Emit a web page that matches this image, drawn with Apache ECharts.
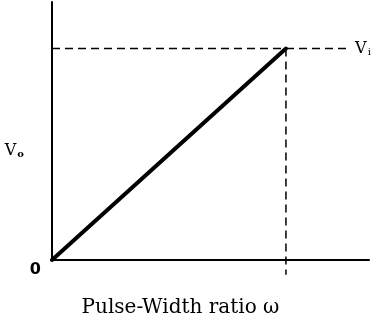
<!DOCTYPE html>
<html>
<head>
<meta charset="utf-8">
<script src="https://cdn.jsdelivr.net/npm/echarts@6/dist/echarts.min.js"></script>
<style>html,body{margin:0;padding:0;background:#fff}#c{width:382px;height:323px}</style>
</head>
<body>
<div id="c"></div>
<script>
// Data
const omega = [0, 1];          // pulse-width ratio
const vo = [0, 1];             // output voltage (relative to Vi)
const viLevel = 1;             // input voltage level
const viGuideEnd = 1.27;       // horizontal guide extent (omega units)
const omegaGuideBottom = -0.07;// vertical guide extends below axis
const xTitle = 'Pulse-Width ratio \u03c9';

const serif = '"DejaVu Serif", "Liberation Serif", serif';
const chart = echarts.init(document.getElementById('c'), null, {renderer: 'canvas'});
chart.setOption({
  animation: false,
  backgroundColor: '#fff',
  grid: {left: 52, right: 13, top: 2, bottom: 61},
  xAxis: {
    type: 'value', min: 0, max: 1.355,
    axisLine: {show: true, onZero: false, lineStyle: {color: '#000', width: 2}},
    axisTick: {show: false}, splitLine: {show: false},
    axisLabel: {show: false},
    name: xTitle, nameLocation: 'middle', nameGap: 38,
    nameTextStyle: {fontFamily: serif, fontSize: 20, color: '#000', padding: [0, 60, 0, 0]}
  },
  yAxis: {
    type: 'value', min: 0, max: 1.22, interval: 1,
    axisLine: {show: true, onZero: false, lineStyle: {color: '#000', width: 2}},
    axisTick: {show: false}, splitLine: {show: false},
    axisLabel: {
      showMaxLabel: false,
      formatter: v => (v === 0 ? '0' : ''),
      fontFamily: '"DejaVu Sans", sans-serif', fontWeight: 'bold', fontSize: 16, color: '#000',
      verticalAlign: 'top', margin: 11, padding: [2, 0, 0, 0]
    },
    name: '{v|V}{s|o}', nameLocation: 'middle', nameRotate: 0, nameGap: 20,
    nameTextStyle: {
      color: '#000', padding: [40, 0, 0, 0],
      rich: {
        v: {fontFamily: serif, fontSize: 16, color: '#000'},
        s: {fontFamily: serif, fontSize: 10, fontWeight: 'bold', color: '#000', padding: [7, 0, 0, 1]}
      }
    }
  },
  series: [
    {
      type: 'line', symbol: 'none', clip: false,
      data: omega.map((x, i) => [x, vo[i]]),
      lineStyle: {color: '#000', width: 4, cap: 'round'}
    },
    {
      type: 'line', symbol: 'none', clip: false, silent: true,
      data: [[0, viLevel], [viGuideEnd, viLevel]],
      lineStyle: {color: '#000', width: 1.5, type: [8, 5]},
      endLabel: {
        show: true, formatter: '{v|V}{s|i}', distance: 6,
        rich: {
          v: {fontFamily: serif, fontSize: 16, color: '#000'},
          s: {fontFamily: serif, fontSize: 10, color: '#000', padding: [7, 0, 0, 1]}
        }
      }
    },
    {
      type: 'line', symbol: 'none', clip: false, silent: true,
      data: [[omega[1], viLevel], [omega[1], omegaGuideBottom]],
      lineStyle: {color: '#000', width: 1.5, type: [8, 5]}
    }
  ]
});
</script>
</body>
</html>
